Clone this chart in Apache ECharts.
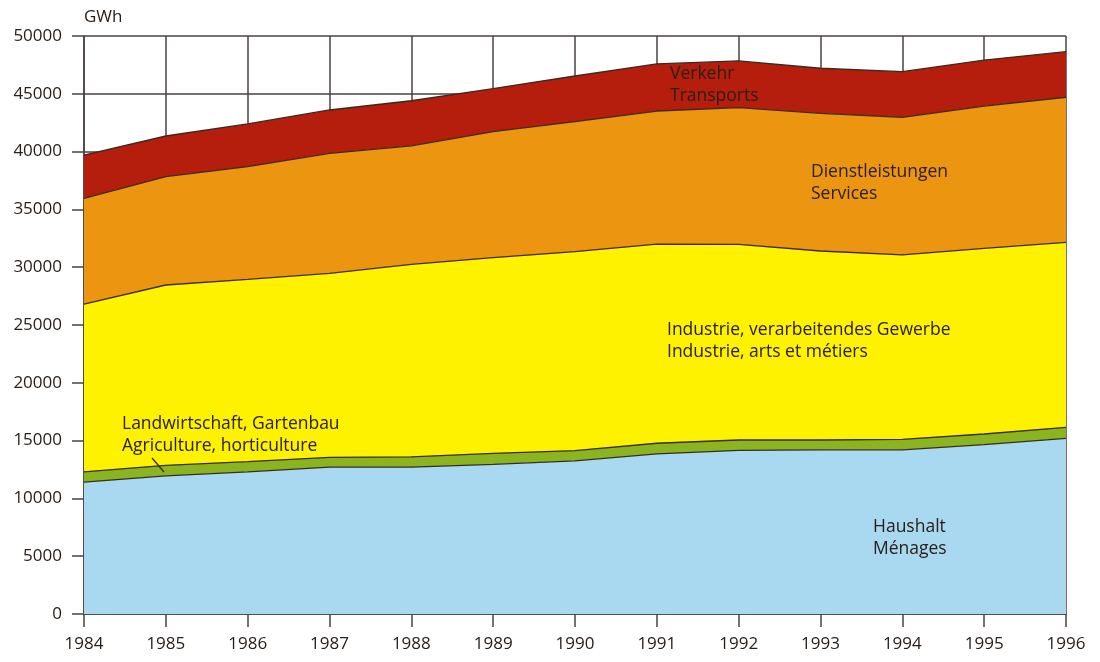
<!DOCTYPE html>
<html>
<head>
<meta charset="utf-8">
<title>Elektrizitätsverbrauch nach Verbrauchergruppen</title>
<script src="https://cdn.jsdelivr.net/npm/echarts@6/dist/echarts.min.js"></script>
<style>
  html, body { margin: 0; padding: 0; background: #fff; }
  #main { width: 1100px; height: 662px; }
</style>
</head>
<body>
<div id="main"></div>
<script>
// Jahre und Verbrauch in GWh (gestapelt, von unten nach oben)
var years = ['1984', '1985', '1986', '1987', '1988', '1989', '1990', '1991', '1992', '1993', '1994', '1995', '1996'];
var haushalt = [11400, 11950, 12300, 12700, 12700, 12950, 13250, 13850, 14150, 14200, 14200, 14650, 15200];
var landwirtschaft = [900, 910, 880, 850, 900, 950, 880, 920, 900, 850, 910, 920, 950];
var industrie = [14500, 15600, 15770, 15920, 16650, 16920, 17210, 17230, 16930, 16350, 15950, 16060, 16000];
var dienstleistungen = [9160, 9370, 9750, 10380, 10250, 10900, 11250, 11510, 11820, 11910, 11900, 12310, 12550];
var verkehr = [3740, 3520, 3690, 3750, 3900, 3730, 3950, 4070, 4040, 3900, 3950, 3980, 3940];

var textColor = '#2a201a';
var edgeColor = '#3a2a20';
var gridColor = '#4a4242';
var fontFamily = '"Open Sans", "Liberation Sans", sans-serif';

function layer(name, data, color, z) {
  return {
    name: name,
    type: 'line',
    stack: 'total',
    data: data,
    symbol: 'none',
    z: z,
    lineStyle: { color: edgeColor, width: 1.3 },
    areaStyle: { color: color, opacity: 1 },
    emphasis: { disabled: true }
  };
}

function label(x, y, lines) {
  return {
    type: 'text',
    left: x,
    top: y,
    z: 100,
    style: {
      text: lines.join('\n'),
      font: '17.5px ' + fontFamily,
      fill: textColor,
      lineHeight: 22
    }
  };
}

var chartDom = document.getElementById('main');
var myChart = echarts.init(chartDom);
var option = {
  animation: false,
  backgroundColor: '#ffffff',
  grid: { left: 84, right: 34, top: 36, bottom: 48 },
  xAxis: {
    type: 'category',
    data: years,
    boundaryGap: false,
    axisLine: { lineStyle: { color: gridColor, width: 1.5 } },
    axisTick: { show: true, length: 13, alignWithLabel: true, lineStyle: { color: gridColor, width: 1.5 } },
    axisLabel: { color: textColor, fontSize: 17, fontFamily: fontFamily, margin: 22 },
    splitLine: { show: true, lineStyle: { color: gridColor, width: 1.5 } }
  },
  yAxis: {
    type: 'value',
    min: 0,
    max: 50000,
    interval: 5000,
    name: 'GWh',
    nameLocation: 'end',
    nameGap: 19,
    nameTextStyle: { color: textColor, fontSize: 17, fontFamily: fontFamily, align: 'left', verticalAlign: 'middle' },
    axisLine: { show: true, lineStyle: { color: gridColor, width: 1.5 } },
    axisTick: { show: true, length: 12, lineStyle: { color: gridColor, width: 1.5 } },
    axisLabel: {
      color: textColor, fontSize: 17, fontFamily: fontFamily, margin: 22,
      formatter: function (v) { return String(v); }
    },
    splitLine: { show: true, lineStyle: { color: gridColor, width: 1.5 } }
  },
  series: [
    layer('Haushalt', haushalt, '#a9d8f1', 10),
    layer('Landwirtschaft', landwirtschaft, '#8ab520', 9),
    layer('Industrie', industrie, '#fff200', 8),
    layer('Dienstleistungen', dienstleistungen, '#ec9510', 7),
    layer('Verkehr', verkehr, '#b51d0c', 6)
  ],
  graphic: [
    label(670, 63, ['Verkehr', 'Transports']),
    label(811, 161, ['Dienstleistungen', 'Services']),
    label(667, 319, ['Industrie, verarbeitendes Gewerbe', 'Industrie, arts et métiers']),
    label(122, 413, ['Landwirtschaft, Gartenbau', 'Agriculture, horticulture']),
    label(873, 516, ['Haushalt', 'Ménages']),
    {
      type: 'line',
      z: 100,
      shape: { x1: 152, y1: 458, x2: 164, y2: 472 },
      style: { stroke: edgeColor, lineWidth: 1.3 }
    }
  ]
};
myChart.setOption(option);
</script>
</body>
</html>
